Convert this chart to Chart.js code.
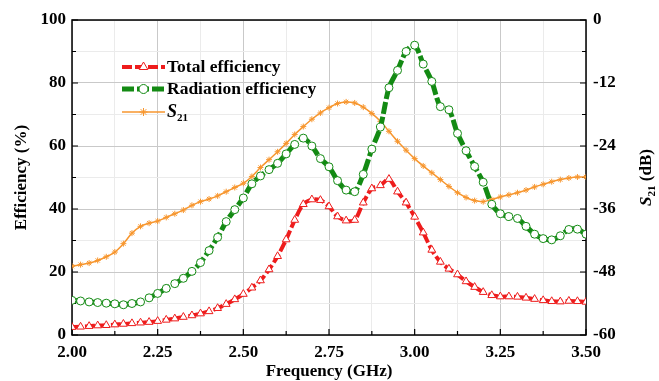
<!DOCTYPE html>
<html>
<head>
<meta charset="utf-8">
<script src="https://cdn.jsdelivr.net/npm/chart.js@4.4.0/dist/chart.umd.min.js"></script>
<style>
    html, body { margin: 0; padding: 0; background: #fff; }
    #wrap { width: 659px; height: 381px; position: relative; }
</style>
</head>
<body>
<div id="wrap"><canvas id="line"></canvas></div>
<script>
// frequency points (GHz)
const frequency = [
    2.000, 2.025, 2.050, 2.075, 2.100, 2.125, 2.150, 2.175, 2.200, 2.225,
    2.250, 2.275, 2.300, 2.325, 2.350, 2.375, 2.400, 2.425, 2.450, 2.475,
    2.500, 2.525, 2.550, 2.575, 2.600, 2.625, 2.650, 2.675, 2.700, 2.725,
    2.750, 2.775, 2.800, 2.825, 2.850, 2.875, 2.900, 2.925, 2.950, 2.975,
    3.000, 3.025, 3.050, 3.075, 3.100, 3.125, 3.150, 3.175, 3.200, 3.225,
    3.250, 3.275, 3.300, 3.325, 3.350, 3.375, 3.400, 3.425, 3.450, 3.475,
    3.500
];

// total efficiency (%)
const totalEfficiency = [
    2.5, 2.6, 2.8, 3.0, 3.1, 3.3, 3.5, 3.7, 3.9, 4.1,
    4.4, 4.8, 5.2, 5.7, 6.2, 6.8, 7.5, 8.5, 9.8, 11.3,
    13.0, 15.0, 17.3, 20.8, 25.0, 30.3, 36.5, 41.5, 43.0, 42.8,
    40.8, 37.6, 36.3, 36.5, 42.0, 46.5, 47.5, 49.5, 45.5, 42.0,
    37.5, 32.5, 27.0, 23.2, 21.0, 19.2, 17.0, 15.2, 13.6, 12.6,
    12.2, 12.2, 12.1, 11.8, 11.4, 11.0, 10.7, 10.6, 10.8, 10.7,
    10.5
];

// radiation efficiency (%)
const radiationEfficiency = [
    11.0, 10.8, 10.5, 10.3, 10.1, 9.9, 9.6, 10.0, 10.5, 11.8,
    13.2, 14.8, 16.3, 18.0, 20.2, 23.0, 26.8, 31.0, 36.0, 39.8,
    43.5, 48.0, 50.5, 52.5, 54.5, 57.5, 60.5, 62.5, 60.0, 56.0,
    53.4, 49.0, 46.0, 45.5, 51.0, 59.0, 66.0, 78.5, 84.0, 90.0,
    92.0, 86.0, 80.5, 72.5, 71.5, 64.0, 58.5, 53.5, 48.5, 41.5,
    38.5, 37.6, 37.0, 34.5, 32.0, 30.6, 30.2, 31.5, 33.5, 33.6,
    32.0
];

// S21 (dB), right axis
const s21 = [
    -46.9, -46.6, -46.3, -45.8, -45.1, -44.2, -42.6, -40.6, -39.3, -38.7,
    -38.3, -37.6, -36.9, -36.2, -35.3, -34.6, -34.1, -33.5, -32.7, -31.9,
    -31.1, -29.8, -28.1, -26.6, -25.1, -23.5, -21.8, -20.3, -18.9, -17.7,
    -16.7, -15.9, -15.6, -15.8, -16.6, -17.8, -19.3, -21.2, -23.1, -24.8,
    -26.4, -27.8, -29.1, -30.4, -31.7, -32.9, -33.8, -34.4, -34.6, -34.2,
    -33.7, -33.3, -32.9, -32.4, -31.8, -31.3, -30.8, -30.4, -30.1, -29.9,
    -29.9
];

const xTickLabels = ["2.00", "2.25", "2.50", "2.75", "3.00", "3.25", "3.50"];
const leftTickLabels = ["0", "20", "40", "60", "80", "100"];
const rightTickLabels = ["-60", "-48", "-36", "-24", "-12", "0"];

const RED = '#ee1c1c';
const GREEN = '#138a13';
const ORANGE = '#f7962e';
const FONT = '"Liberation Serif", "Times New Roman", serif';

function toPoints(values)
{
    let pts = [];
    for(let i=0; i<frequency.length; i++)
    {
        pts.push({x: frequency[i], y: values[i]});
    }
    return pts;
}

function isMultiple(v, step)
{
    return Math.abs(v/step - Math.round(v/step)) < 1e-6;
}

// frame, inward ticks, titles and legend
const decorPlugin = {
    id: 'decor',
    beforeDatasetsDraw(chart)
    {
        const ctx = chart.ctx;
        const a = chart.chartArea;
        ctx.save();
        ctx.strokeStyle = '#000';
        ctx.lineWidth = 1.5;
        ctx.strokeRect(a.left, a.top, a.right - a.left, a.bottom - a.top);

        const x = chart.scales.x, yl = chart.scales.y, yr = chart.scales.y2;
        ctx.lineWidth = 1.2;
        ctx.beginPath();
        x.ticks.forEach(t => {
            const px = x.getPixelForValue(t.value);
            const len = isMultiple(t.value, 0.25) ? 6 : 4;
            ctx.moveTo(px, a.bottom); ctx.lineTo(px, a.bottom - len);
        });
        yl.ticks.forEach(t => {
            const py = yl.getPixelForValue(t.value);
            const len = isMultiple(t.value, 20) ? 6 : 4;
            ctx.moveTo(a.left, py); ctx.lineTo(a.left + len, py);
        });
        yr.ticks.forEach(t => {
            const py = yr.getPixelForValue(t.value);
            const len = isMultiple(t.value, 12) ? 6 : 4;
            ctx.moveTo(a.right, py); ctx.lineTo(a.right - len, py);
        });
        ctx.stroke();
        ctx.restore();
    },
    afterDraw(chart)
    {
        const ctx = chart.ctx;
        const a = chart.chartArea;
        const midY = (a.top + a.bottom) / 2;
        ctx.save();
        ctx.fillStyle = '#000';
        ctx.font = 'bold 17px ' + FONT;
        ctx.textAlign = 'center';
        ctx.textBaseline = 'middle';

        // x title
        ctx.fillText('Frequency (GHz)', (a.left + a.right) / 2, 372);

        // left title
        ctx.save();
        ctx.translate(22, midY);
        ctx.rotate(-Math.PI / 2);
        ctx.fillText('Efficiency (%)', 0, 0);
        ctx.restore();

        // right title S21 (dB)
        ctx.save();
        ctx.translate(647, midY);
        ctx.rotate(-Math.PI / 2);
        ctx.textAlign = 'left';
        ctx.font = 'italic bold 17px ' + FONT;
        const wS = ctx.measureText('S').width;
        ctx.font = 'bold 11px ' + FONT;
        const wSub = ctx.measureText('21').width;
        ctx.font = 'bold 17px ' + FONT;
        const wRest = ctx.measureText(' (dB)').width;
        let sx = -(wS + wSub + wRest) / 2;
        ctx.font = 'italic bold 17px ' + FONT;
        ctx.fillText('S', sx, 0);
        ctx.font = 'bold 11px ' + FONT;
        ctx.fillText('21', sx + wS, 5);
        ctx.font = 'bold 17px ' + FONT;
        ctx.fillText(' (dB)', sx + wS + wSub, 0);
        ctx.restore();

        // legend
        const rows = [
            {y: 67, color: RED, width: 4, dash: [10, 3], style: 'triangle', r: 5, label: 'Total efficiency'},
            {y: 89, color: GREEN, width: 5, dash: [12, 3], style: 'circle', r: 4.5, label: 'Radiation efficiency'},
            {y: 112, color: ORANGE, width: 1.5, dash: [], style: 'star', r: 4, label: null}
        ];
        rows.forEach(row => {
            ctx.save();
            ctx.strokeStyle = row.color;
            ctx.lineWidth = row.width;
            ctx.setLineDash(row.dash);
            ctx.beginPath();
            ctx.moveTo(122, row.y);
            ctx.lineTo(165, row.y);
            ctx.stroke();
            ctx.setLineDash([]);
            ctx.lineWidth = 1;
            ctx.fillStyle = row.style === 'star' ? row.color : '#fff';
            Chart.helpers.drawPoint(ctx, {pointStyle: row.style, radius: row.r, borderWidth: 1, rotation: 0}, 143.5, row.y);
            ctx.restore();

            ctx.textAlign = 'left';
            ctx.textBaseline = 'middle';
            if(row.label)
            {
                ctx.font = 'bold 17.5px ' + FONT;
                ctx.fillText(row.label, 167, row.y);
            }
            else
            {
                ctx.font = 'italic bold 18px ' + FONT;
                ctx.fillText('S', 167, row.y);
                const w = ctx.measureText('S').width;
                ctx.font = 'bold 11px ' + FONT;
                ctx.fillText('21', 167 + w, row.y + 6);
            }
        });
        ctx.restore();
    }
};

function gridColor(step)
{
    return function(c)
    {
        if(!c.tick) return 'rgba(0,0,0,0)';
        return isMultiple(c.tick.value, step) ? '#c9c9c9' : '#ebebeb';
    };
}

let ctx = document.getElementById('line').getContext('2d');

const tickFont = { family: FONT, size: 17, weight: 'bold' };

const config = {
    type: 'line',
    data: {
        datasets: [
            {
                label: 'Total efficiency',
                data: toPoints(totalEfficiency),
                yAxisID: 'y',
                borderColor: RED,
                borderWidth: 4,
                borderDash: [10, 3],
                pointStyle: 'triangle',
                pointRadius: 4.5,
                pointBorderWidth: 1,
                pointBackgroundColor: '#fff',
                pointBorderColor: RED,
                tension: 0.3
            },
            {
                label: 'Radiation efficiency',
                data: toPoints(radiationEfficiency),
                yAxisID: 'y',
                borderColor: GREEN,
                borderWidth: 5,
                borderDash: [12, 3],
                pointStyle: 'circle',
                pointRadius: 4,
                pointBorderWidth: 1,
                pointBackgroundColor: '#fff',
                pointBorderColor: GREEN,
                tension: 0.3
            },
            {
                label: 'S21',
                data: toPoints(s21),
                yAxisID: 'y2',
                borderColor: ORANGE,
                borderWidth: 1.5,
                pointStyle: 'star',
                pointRadius: 3,
                pointBorderWidth: 1,
                pointBorderColor: ORANGE,
                pointBackgroundColor: ORANGE,
                tension: 0.3
            }
        ]
    },
    options: {
        responsive: true,
        maintainAspectRatio: false,
        animation: false,
        layout: { padding: { top: 20, right: 0, left: 0, bottom: 0 } },
        plugins: {
            legend: { display: false },
            tooltip: { enabled: false }
        },
        scales: {
            x: {
                type: 'linear',
                min: 2,
                max: 3.5,
                afterFit: s => { s.height = 46; },
                border: { display: false },
                grid: { color: gridColor(0.25), drawTicks: false, lineWidth: 1 },
                ticks: {
                    stepSize: 0.125,
                    autoSkip: false,
                    maxRotation: 0,
                    padding: 7,
                    color: '#000',
                    font: tickFont,
                    callback: v => isMultiple(v, 0.25) ? xTickLabels[Math.round((v - 2) / 0.25)] : ''
                }
            },
            y: {
                position: 'left',
                min: 0,
                max: 100,
                afterFit: s => { s.width = 72; },
                border: { display: false },
                grid: { color: gridColor(20), drawTicks: false, lineWidth: 1 },
                ticks: {
                    stepSize: 10,
                    autoSkip: false,
                    padding: 6,
                    color: '#000',
                    font: tickFont,
                    callback: v => isMultiple(v, 20) ? leftTickLabels[Math.round(v / 20)] : ''
                }
            },
            y2: {
                position: 'right',
                min: -60,
                max: 0,
                afterFit: s => { s.width = 73; },
                border: { display: false },
                grid: { drawOnChartArea: false, drawTicks: false },
                ticks: {
                    stepSize: 6,
                    autoSkip: false,
                    padding: 7,
                    color: '#000',
                    font: tickFont,
                    callback: v => isMultiple(v, 12) ? rightTickLabels[Math.round((v + 60) / 12)] : ''
                }
            }
        }
    },
    plugins: [decorPlugin]
};

let lineChart = new Chart(ctx, config);
</script>
</body>
</html>
